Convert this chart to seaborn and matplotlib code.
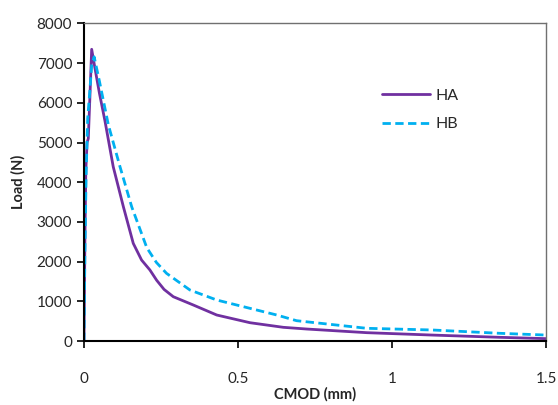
import numpy as np
import pandas as pd
import seaborn as sns
import matplotlib.pyplot as plt

# CMOD (mm) / Load (N)
ha_cmod = [0, 0.003, 0.006, 0.010, 0.014, 0.019, 0.025, 0.035, 0.050, 0.068, 0.095, 0.128,
           0.160, 0.187, 0.214, 0.236, 0.260, 0.290, 0.355, 0.431, 0.539, 0.647, 0.723,
           0.918, 1.130, 1.350, 1.500]
ha_load = [0, 2500, 4300, 5000, 5100, 6100, 7350, 6900, 6250, 5550, 4390, 3380,
           2460, 2040, 1790, 1530, 1300, 1116, 907, 655, 461, 345, 302,
           210, 150, 93, 60]

hb_cmod = [0, 0.003, 0.007, 0.012, 0.019, 0.025, 0.033, 0.050, 0.079, 0.117, 0.155,
           0.204, 0.235, 0.268, 0.344, 0.431, 0.539, 0.626, 0.690, 0.918, 1.130,
           1.350, 1.500]
hb_load = [0, 2200, 4200, 5600, 6300, 6950, 7160, 6550, 5450, 4390, 3380,
           2350, 1980, 1705, 1285, 1033, 823, 655, 512, 320, 278,
           194, 150]

series_names = ["HA", "HB"]
x_ticks = [0, 0.5, 1, 1.5]
x_tick_labels = ["0", "0.5", "1", "1.5"]
y_ticks = [0, 1000, 2000, 3000, 4000, 5000, 6000, 7000, 8000]

df = pd.concat([
    pd.DataFrame({"CMOD": ha_cmod, "Load": ha_load, "Series": series_names[0]}),
    pd.DataFrame({"CMOD": hb_cmod, "Load": hb_load, "Series": series_names[1]}),
])

sns.set_style("white")
plt.rcParams["font.family"] = ["Lato", "DejaVu Sans"]

fig = plt.figure(figsize=(5.58, 4.05), dpi=100)
ax = fig.add_axes([0.1505, 0.158, 0.828, 0.784])

sns.lineplot(data=df[df.Series == "HA"], x="CMOD", y="Load", ax=ax,
             color="#7030A0", linewidth=2.0, label="HA", sort=False)
sns.lineplot(data=df[df.Series == "HB"], x="CMOD", y="Load", ax=ax,
             color="#00B0F0", linewidth=2.0, linestyle=(0, (3, 1.6)),
             label="HB", sort=False)

ax.set_xlim(0, 1.5)
ax.set_ylim(0, 8000)
ax.set_xticks(x_ticks)
ax.set_xticklabels(x_tick_labels)
ax.set_yticks(y_ticks)
ax.tick_params(axis="both", labelsize=11, direction="out", length=5, width=1.2,
               color="black", left=True, bottom=True)
ax.tick_params(axis="x", pad=17)

ax.set_xlabel("CMOD (mm)", fontsize=10.5, fontweight="bold", labelpad=1)
ax.set_ylabel("Load (N)", fontsize=10.5, fontweight="bold", labelpad=8)

for side in ["left", "bottom"]:
    ax.spines[side].set_color("black")
    ax.spines[side].set_linewidth(1.5)
for side in ["top", "right"]:
    ax.spines[side].set_color("#707070")
    ax.spines[side].set_linewidth(1.0)

ax.legend(loc="upper left", bbox_to_anchor=(0.615, 0.84), frameon=False,
          fontsize=11.5, handlelength=3.0, handletextpad=0.3, labelspacing=0.9)

fig.savefig("out.png", dpi=100)
